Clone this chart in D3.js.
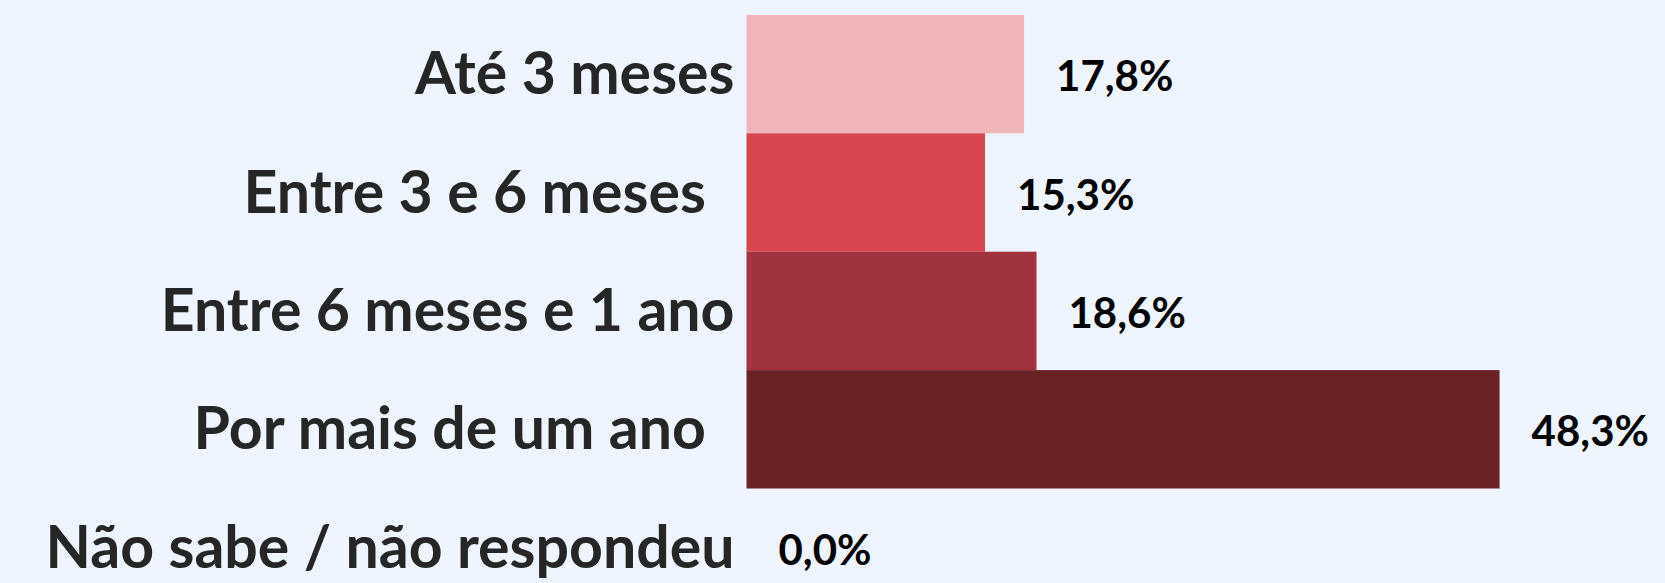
<!DOCTYPE html>
<html>
<head>
<meta charset="utf-8">
<script src="https://cdn.jsdelivr.net/npm/d3@7"></script>
<style>
  html, body { margin: 0; padding: 0; background: #EEF5FF; }
  svg { display: block; }
  text { font-family: Lato, "Open Sans", sans-serif; font-weight: 700; white-space: pre; }
</style>
</head>
<body>
<svg id="chart" width="1665" height="583" xml:space="preserve"></svg>
<script>
const categories = ["Até 3 meses", "Entre 3 e 6 meses  ", "Entre 6 meses e 1 ano", "Por mais de um ano  ", "Não sabe / não respondeu"];
const values = [17.8, 15.3, 18.6, 48.3, 0.0];
const valueLabels = ["17,8%", "15,3%", "18,6%", "48,3%", "0,0%"];
const colors = ["#F0B5B9", "#D84650", "#A0333E", "#6B2227", "#6B2227"];

const W = 1665, H = 583;
const svg = d3.select("#chart");
svg.append("rect").attr("width", W).attr("height", H).attr("fill", "#EEF5FF");

const x0 = 746.5;
const x = d3.scaleLinear().domain([0, 50]).range([x0, x0 + 779.6]);
const y = d3.scaleBand().domain(categories).range([14.9, 14.9 + 5 * 118.4]).padding(0);

const data = categories.map((c, i) => ({ c, v: values[i], label: valueLabels[i], color: colors[i] }));

svg.append("g").selectAll("rect").data(data).join("rect")
  .attr("x", x(0))
  .attr("y", d => y(d.c))
  .attr("width", d => x(d.v) - x(0))
  .attr("height", y.bandwidth())
  .attr("fill", d => d.color);

// category labels (y axis)
const yAxis = d3.axisLeft(y).tickSize(0).tickPadding(0);
const ga = svg.append("g").attr("transform", `translate(${x0 - 12},0)`).call(yAxis);
ga.select(".domain").remove();
ga.selectAll("text")
  .attr("font-size", 59)
  .attr("fill", "#262626")
  .attr("dy", "0.34em")
  .attr("font-family", "Lato, 'Open Sans', sans-serif")
  .attr("font-weight", 700)
  .style("white-space", "pre");

// value labels
svg.append("g").selectAll("text").data(data).join("text")
  .attr("x", d => x(d.v) + 32)
  .attr("y", d => y(d.c) + y.bandwidth() / 2 + 2)
  .attr("dy", "0.36em")
  .attr("font-size", 42)
  .attr("fill", "#000")
  .text(d => d.label);
</script>
</body>
</html>
